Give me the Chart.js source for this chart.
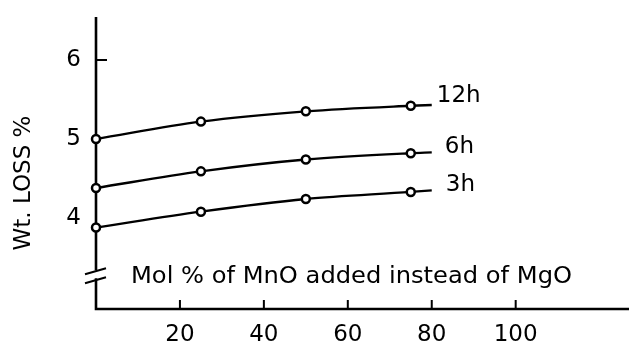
<!DOCTYPE html>
<html>
<head>
<meta charset="utf-8">
<style>
  html, body { margin: 0; padding: 0; background: #fff; }
  #wrap { width: 629px; height: 342px; }
</style>
<script src="https://cdn.jsdelivr.net/npm/chart.js@4/dist/chart.umd.min.js"></script>
</head>
<body>
<div id="wrap"><canvas id="c" width="629" height="342"></canvas></div>
<script>
// MnO content (mol %); the last entry is where each curve is drawn out to, past the last measurement
const molPct = [0, 25, 50, 75, 80];
const loss12h = [5.00, 5.22, 5.35, 5.42, 5.43];
const loss6h  = [4.38, 4.59, 4.74, 4.82, 4.83];
const loss3h  = [3.88, 4.08, 4.24, 4.33, 4.35];
const seriesNames = ['12h', '6h', '3h'];
const measuredCount = 4;

const xTicks = [20, 40, 60, 80, 100];
const yTicks = [4, 5, 6];
const yMarkedTicks = [6];
const yBreakAt = 3.3;

const FONT = '"DejaVu Sans", sans-serif';
const INK = '#000';

function series(values, name) {
  return {
    label: name,
    data: molPct.map((x, i) => ({ x: x, y: values[i] })),
    borderColor: INK,
    borderWidth: 2.4,
    cubicInterpolationMode: 'monotone',
    pointRadius: ctx => (ctx.dataIndex < measuredCount ? 4 : 0),
    pointBackgroundColor: '#fff',
    pointBorderColor: INK,
    pointBorderWidth: 2.5,
    clip: false,
    fill: false
  };
}

const axesPlugin = {
  id: 'handAxes',
  beforeDatasetsDraw(chart) {
    const { ctx, chartArea: a, scales: { x, y } } = chart;
    ctx.save();
    ctx.strokeStyle = INK;
    ctx.lineCap = 'butt';
    // axis lines
    ctx.lineWidth = 2.6;
    const yb = y.getPixelForValue(yBreakAt);
    ctx.beginPath();
    ctx.moveTo(a.left, a.top);
    ctx.lineTo(a.left, yb - 3);
    ctx.moveTo(a.left, yb + 5);
    ctx.lineTo(a.left, a.bottom);
    ctx.lineTo(a.right, a.bottom);
    ctx.stroke();
    // break marks on the value axis
    ctx.lineWidth = 2;
    ctx.beginPath();
    ctx.moveTo(a.left - 11, yb + 1);
    ctx.lineTo(a.left + 10, yb - 5);
    ctx.moveTo(a.left - 11, yb + 10);
    ctx.lineTo(a.left + 10, yb + 4);
    ctx.stroke();
    // inward tick marks
    ctx.lineWidth = 2;
    ctx.beginPath();
    xTicks.forEach(v => {
      const px = x.getPixelForValue(v);
      ctx.moveTo(px, a.bottom);
      ctx.lineTo(px, a.bottom - 9);
    });
    yMarkedTicks.forEach(v => {
      const py = y.getPixelForValue(v);
      ctx.moveTo(a.left, py);
      ctx.lineTo(a.left + 11, py);
    });
    ctx.stroke();
    ctx.restore();
  },
  afterDraw(chart) {
    const { ctx, chartArea: a, scales: { x, y } } = chart;
    ctx.save();
    ctx.fillStyle = INK;
    // value axis title
    ctx.font = '23px ' + FONT;
    ctx.textAlign = 'center';
    ctx.textBaseline = 'middle';
    ctx.translate(24, 183);
    ctx.rotate(-Math.PI / 2);
    ctx.fillText('Wt. LOSS %', 0, 0);
    ctx.setTransform(1, 0, 0, 1, 0, 0);
    // x quantity, written inside the plot
    const note = 'Mol % of MnO added instead of MgO';
    ctx.font = '23px ' + FONT;
    ctx.textAlign = 'left';
    ctx.textBaseline = 'alphabetic';
    const w = ctx.measureText(note).width;
    const sx = 441 / w;
    ctx.translate(a.left + 35, 283);
    ctx.scale(sx, 1);
    ctx.fillText(note, 0, 0);
    ctx.setTransform(1, 0, 0, 1, 0, 0);
    // curve names at the end of each curve
    ctx.font = '23px ' + FONT;
    ctx.textBaseline = 'middle';
    const offs = [[5, -9], [13, -5], [14, -5]];
    chart.data.datasets.forEach((ds, i) => {
      const last = ds.data[ds.data.length - 1];
      const px = x.getPixelForValue(last.x) + offs[i][0];
      const py = y.getPixelForValue(last.y) + offs[i][1];
      ctx.fillText(seriesNames[i], px, py);
    });
    ctx.restore();
  }
};

new Chart(document.getElementById('c'), {
  type: 'line',
  data: {
    datasets: [series(loss12h, seriesNames[0]), series(loss6h, seriesNames[1]), series(loss3h, seriesNames[2])]
  },
  options: {
    responsive: false,
    animation: false,
    layout: { autoPadding: false, padding: { top: 17, right: 0, left: 0, bottom: 0 } },
    plugins: { legend: { display: false }, tooltip: { enabled: false } },
    scales: {
      x: {
        type: 'linear',
        min: 0,
        max: 127,
        afterFit: s => { s.height = 33; s.paddingLeft = 0; s.paddingRight = 0; },
        afterBuildTicks: s => { s.ticks = xTicks.map(v => ({ value: v })); },
        grid: { display: false, drawTicks: false },
        border: { display: false },
        ticks: { color: INK, font: { family: FONT, size: 23 }, padding: 12, maxRotation: 0, autoSkip: false }
      },
      y: {
        type: 'linear',
        min: 2.848,
        max: 6.544,
        afterFit: s => { s.width = 96; s.paddingTop = 0; s.paddingBottom = 0; },
        afterBuildTicks: s => { s.ticks = yTicks.map(v => ({ value: v })); },
        grid: { display: false, drawTicks: false },
        border: { display: false },
        ticks: { color: INK, font: { family: FONT, size: 23 }, padding: 15 }
      }
    }
  },
  plugins: [axesPlugin]
});
</script>
</body>
</html>
